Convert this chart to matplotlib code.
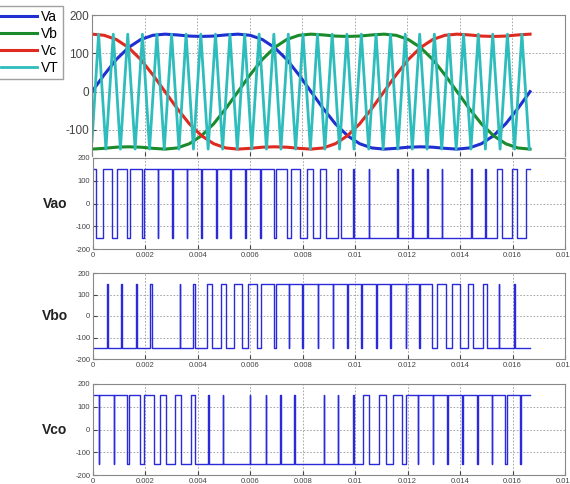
import numpy as np
import matplotlib
matplotlib.use("Agg")
import matplotlib.pyplot as plt

plt.rcParams["font.family"] = ["Liberation Sans", "DejaVu Sans"]
plt.rcParams["axes.unicode_minus"] = False

# reference signals (10 deg steps over one 60 Hz cycle)
va = [0, 44, 84, 115, 136, 147, 150, 148, 145, 144, 145, 148, 150, 147, 136, 115, 84, 44, 0,
      -44, -84, -115, -136, -147, -150, -148, -145, -144, -145, -148, -150, -147, -136, -115, -84, -44, 0]
vb = [-150, -148, -145, -144, -145, -148, -150, -147, -136, -115, -84, -44, 0, 44, 84, 115, 136, 147, 150,
      148, 145, 144, 145, 148, 150, 147, 136, 115, 84, 44, 0, -44, -84, -115, -136, -147, -150]
vc = [150, 147, 136, 115, 84, 44, 0, -44, -84, -115, -136, -147, -150, -148, -145, -144, -145, -148, -150,
      -147, -136, -115, -84, -44, 0, 44, 84, 115, 136, 147, 150, 148, 145, 144, 145, 148, 150]
end_ms = 16.67

# triangle carrier vertices (ms)
carrier_tops = [0.25, 0.81, 1.36, 1.92, 2.47, 3.03, 3.58, 4.14, 4.70, 5.25, 5.81, 6.36, 6.92, 7.47, 8.03,
                8.58, 9.14, 9.70, 10.25, 10.81, 11.36, 11.92, 12.47, 13.03, 13.58, 14.14, 14.70, 15.25,
                15.81, 16.36]
carrier_bottoms = [0.53, 1.08, 1.64, 2.19, 2.75, 3.31, 3.86, 4.42, 4.97, 5.53, 6.08, 6.64, 7.19, 7.75,
                   8.31, 8.86, 9.42, 9.97, 10.53, 11.08, 11.64, 12.19, 12.75, 13.31, 13.86, 14.42, 14.97,
                   15.53, 16.08, 16.64]
carrier_peak = 150
carrier_start = -130

# PWM outputs: start level and switching instants (ms)
vao_start = 150
vao_edges = [0.13, 0.37, 0.74, 0.92, 1.28, 1.40, 1.88, 1.93, 2.47, 2.49, 3.03, 3.05, 3.57, 3.59,
             4.13, 4.17, 4.70, 4.72, 5.24, 5.26, 5.80, 5.85, 6.38, 6.40, 6.90, 6.96, 7.40, 7.55,
             7.88, 8.16, 8.39, 8.65, 8.87, 9.34, 9.47, 9.92, 9.96, 10.52, 10.54, 11.61, 11.65,
             12.17, 12.19, 12.74, 12.76, 13.30, 13.32, 14.42, 14.44, 14.95, 14.99, 15.41, 15.58,
             15.98, 16.17, 16.50]
vbo_start = -150
vbo_edges = [0.54, 0.56, 1.07, 1.09, 1.64, 1.66, 2.19, 2.24, 3.30, 3.32, 3.81, 3.88, 4.35, 4.52,
             4.87, 5.09, 5.38, 5.70, 5.92, 6.27, 6.42, 6.90, 6.96, 7.47, 7.49, 7.97, 8.01, 8.57,
             8.59, 9.14, 9.16, 9.68, 9.72, 10.23, 10.25, 10.80, 10.82, 11.33, 11.37, 11.93, 11.95,
             12.44, 12.48, 12.94, 13.11, 13.46, 13.70, 14.01, 14.29, 14.50, 14.88, 15.03, 15.47,
             15.49, 16.07, 16.09]
vco_start = 150
vco_edges = [0.21, 0.23, 0.79, 0.81, 1.31, 1.36, 1.79, 1.96, 2.31, 2.55, 2.80, 3.11, 3.34, 3.72,
             3.90, 4.39, 4.43, 4.94, 4.96, 5.97, 5.99, 6.58, 6.60, 7.15, 7.17, 7.68, 7.70, 8.80,
             8.82, 9.33, 9.35, 9.90, 9.95, 10.30, 10.54, 10.89, 11.19, 11.44, 11.80, 11.93, 12.39,
             12.41, 12.96, 12.98, 13.51, 13.53, 14.08, 14.10, 14.65, 14.67, 15.21, 15.23, 15.73,
             15.77, 16.29, 16.31]

xticks = [0, 0.002, 0.004, 0.006, 0.008, 0.01, 0.012, 0.014, 0.016, 0.018]
xticklabels = ["0", "0.002", "0.004", "0.006", "0.008", "0.01", "0.012", "0.014", "0.016", "0.018"]
yticks = [-200, -100, 0, 100, 200]

W, H = 570, 484
fig = plt.figure(figsize=(W / 100, H / 100), dpi=100)


def px_axes(left, top, right, bottom):
    return fig.add_axes([left / W, 1 - bottom / H, (right - left) / W, (bottom - top) / H])


def style(ax, size):
    ax.set_xlim(0, 0.018)
    ax.set_xticks(xticks)
    ax.set_yticks(yticks)
    ax.grid(True, color="#9a9a9a", linestyle=(0, (2, 2)), linewidth=0.6)
    ax.tick_params(direction="in", length=3, labelsize=size, colors="#444444", pad=2)
    for s in ax.spines.values():
        s.set_color("#888888")
        s.set_linewidth(0.8)


# top panel
ax0 = px_axes(92, 15, 565, 156)
t_sine = np.linspace(0, end_ms, len(va)) / 1000
ax0.plot(t_sine, va, color="#1f2fd0", lw=2.2, label="Va")
ax0.plot(t_sine, vb, color="#1a8a2a", lw=2.2, label="Vb")
ax0.plot(t_sine, vc, color="#e02a20", lw=2.2, label="Vc")
pts = sorted([(t, carrier_peak) for t in carrier_tops] + [(t, -carrier_peak) for t in carrier_bottoms])
ct = [0] + [p[0] for p in pts]
cv = [carrier_start] + [p[1] for p in pts]
ax0.plot(np.array(ct) / 1000, cv, color="#2fbcbc", lw=2.0, label="VT")
style(ax0, 8.5)
ax0.set_ylim(-168, 200)
ax0.set_yticks([-100, 0, 100, 200])
ax0.tick_params(labelbottom=False)
ax0.spines["bottom"].set_visible(False)
fig.legend(loc="upper left", bbox_to_anchor=(-0.006, 0.988), fontsize=10, frameon=True,
           fancybox=False, edgecolor="#888888", handlelength=2.6, handletextpad=0.3,
           borderpad=0.3, labelspacing=0.22, borderaxespad=0)

# PWM panels
panels = [
    ("Vao", vao_start, vao_edges, (158, 249)),
    ("Vbo", vbo_start, vbo_edges, (273, 359)),
    ("Vco", vco_start, vco_edges, (384, 475)),
]
for name, start, edges, (top, bottom) in panels:
    ax = px_axes(93, top, 565, bottom)
    times = np.array([0] + edges + [end_ms]) / 1000
    levels = [start * (-1) ** k for k in range(len(edges) + 1)]
    levels.append(levels[-1])
    ax.step(times, levels, where="post", color="#2a2ad8", lw=1.0)
    style(ax, 5.5)
    ax.set_ylim(-200, 200)
    ax.set_xticklabels(xticklabels)
    fig.text(55 / W, 1 - ((top + bottom) / 2) / H, name, fontsize=10, fontweight="bold",
             ha="center", va="center", color="#222222")

fig.savefig("out.png", dpi=100)
